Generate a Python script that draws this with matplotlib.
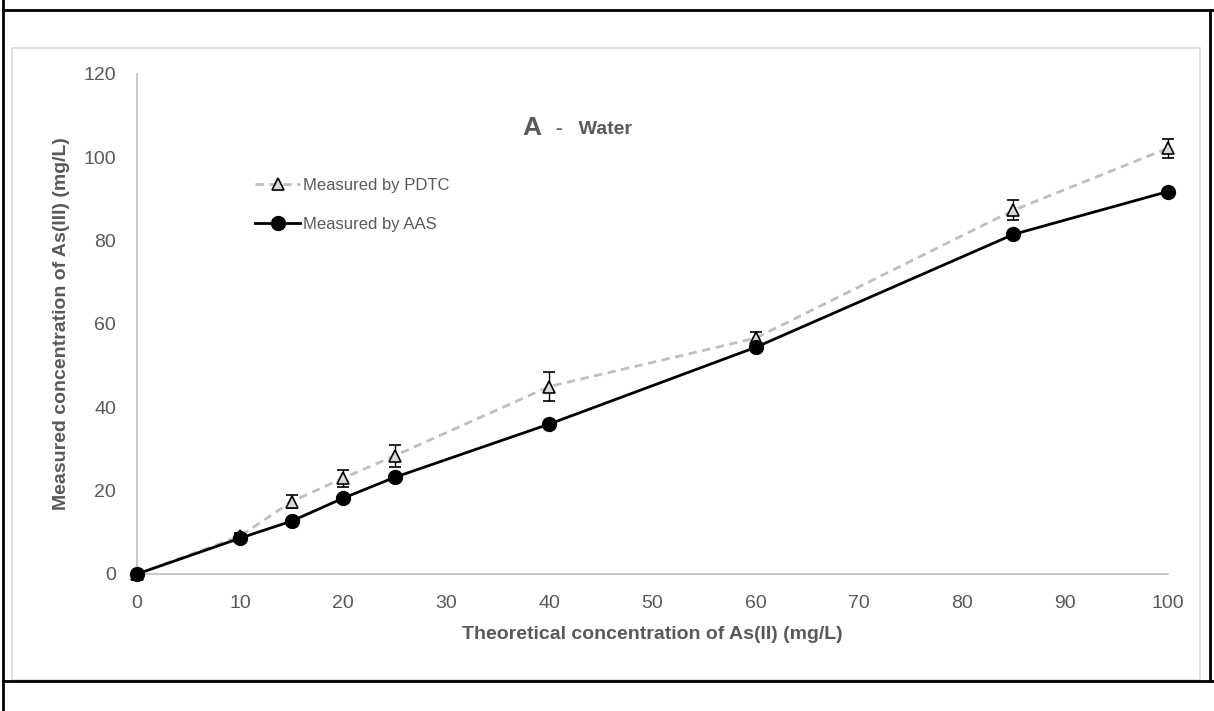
import matplotlib
matplotlib.use("Agg")
import matplotlib.pyplot as plt
from matplotlib.lines import Line2D
from matplotlib.patches import Rectangle

# ---- data ----
conc_theor = [0, 10, 15, 20, 25, 40, 60, 85, 100]
pdtc = [0, 9.1, 17.4, 23.0, 28.4, 45.0, 56.6, 87.3, 102.2]
pdtc_err = [0, 0.8, 1.6, 2.0, 2.6, 3.5, 1.6, 2.4, 2.3]
aas = [0, 8.6, 12.7, 18.2, 23.2, 36.0, 54.4, 81.5, 91.8]

x_ticks = list(range(0, 101, 10))
y_ticks = list(range(0, 121, 20))

GREY_TXT = "#595959"
FONT = "Liberation Sans"
W, H = 1214, 711

fig = plt.figure(figsize=(W / 100, H / 100), dpi=100)

# outer table border (black) and chart-area frame (light grey)
def fx(px): return px / W
def fy(py): return 1 - py / H
fig.add_artist(Line2D([fx(3), fx(3)], [fy(0), fy(711)], color="black", lw=2))
fig.add_artist(Line2D([fx(3), fx(1214)], [fy(10), fy(10)], color="black", lw=2))
fig.add_artist(Line2D([fx(1210), fx(1210)], [fy(10), fy(681)], color="black", lw=2))
fig.add_artist(Line2D([fx(3), fx(1214)], [fy(681), fy(681)], color="black", lw=2))
fig.add_artist(Rectangle((fx(12), fy(680)), fx(1200) - fx(12), fy(48) - fy(680),
                         fill=False, edgecolor="#d9d9d9", lw=1.2))

ax = fig.add_axes([fx(137), fy(574), fx(1168) - fx(137), fy(74) - fy(574)])

pdtc_style = dict(color="#bfbfbf", ls="--", lw=2, dashes=(3, 2), marker="^", ms=9,
                  mfc="#d9d9d9", mec="black", mew=1.2)
aas_style = dict(color="black", lw=2, marker="o", ms=10)

ax.errorbar(conc_theor, pdtc, yerr=pdtc_err, ecolor="black", elinewidth=1,
            capsize=4, zorder=2, clip_on=False, **pdtc_style)
ax.plot(conc_theor, aas, zorder=3, clip_on=False, **aas_style)

ax.set_xlim(0, 100)
ax.set_ylim(0, 120)
ax.set_xticks(x_ticks)
ax.set_yticks(y_ticks)
ax.tick_params(length=0, labelsize=14, labelcolor=GREY_TXT)
ax.tick_params(axis="x", pad=15)
ax.tick_params(axis="y", pad=15)
for lbl in ax.get_xticklabels() + ax.get_yticklabels():
    lbl.set_fontfamily(FONT)
for side in ("top", "right"):
    ax.spines[side].set_visible(False)
for side in ("left", "bottom"):
    ax.spines[side].set_color("#bfbfbf")
    ax.spines[side].set_linewidth(1.2)

ax.set_xlabel("Theoretical concentration of As(II) (mg/L)", fontsize=14,
              fontweight="bold", color=GREY_TXT, family=FONT, labelpad=10)
ax.set_ylabel("Measured concentration of As(III) (mg/L)", fontsize=14,
              fontweight="bold", color=GREY_TXT, family=FONT, labelpad=10)

fig.text(fx(522), fy(128), "A", fontsize=19, fontweight="bold", color=GREY_TXT,
         family=FONT, va="center")
fig.text(fx(556), fy(130), "-   Water", fontsize=14, fontweight="bold",
         color=GREY_TXT, family=FONT, va="center")

handles = [Line2D([], [], **pdtc_style), Line2D([], [], **aas_style)]
labels = ["Measured by PDTC", "Measured by AAS"]
leg = ax.legend(handles, labels, loc="upper left", bbox_to_anchor=(0.1, 0.822),
                frameon=False, handlelength=2.7, handletextpad=0.2,
                labelspacing=1.45, prop={"family": FONT, "size": 12})
for t in leg.get_texts():
    t.set_color(GREY_TXT)

fig.savefig("out.png", dpi=100)
